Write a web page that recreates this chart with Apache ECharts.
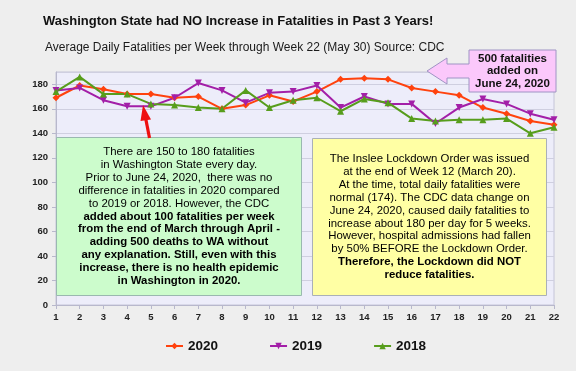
<!DOCTYPE html>
<html><head><meta charset="utf-8">
<script src="https://cdn.jsdelivr.net/npm/echarts@6/dist/echarts.min.js"></script>
<style>html,body{margin:0;padding:0;background:#eeeeee;}#c{width:576px;height:371px;}</style>
</head><body><div id="c"></div>
<script>
const weeks = ['1','2','3','4','5','6','7','8','9','10','11','12','13','14','15','16','17','18','19','20','21','22'];
const s2020 = [169,179,176,172,172,169,170,160,163,171,166,174,184,185,184,177,174,171,161,156,150,147];
const s2019 = [175,177,167,162,162,169,181,175,165,173,174,179,161,170,164,164,148,161,168,164,156,151];
const s2018 = [174,186,172,172,164,163,161,160,175,161,167,169,158,168,165,152,150,151,151,152,140,145];
const yTicks = {min:0, max:190, interval:20};

const FONT = "'Liberation Sans', Arial, sans-serif";
const chart = echarts.init(document.getElementById('c'), null, {renderer:'canvas'});
const greenText = [
 '{n|There are 150 to 180 fatalities}',
 '{n|in Washington State every day.}',
 '{n|Prior to June 24, 2020,  there was no}',
 '{n|difference in fatalities in 2020 compared}',
 '{n|to 2019 or 2018. However, the CDC}',
 '{b|added about 100 fatalities per week}',
 '{b|from the end of March through April -}',
 '{b|adding 500 deaths to WA without}',
 '{b|any explanation. Still, even with this}',
 '{b|increase, there is no health epidemic}',
 '{b|in Washington in 2020.}'
].join('\n');
const yellowText = [
 '{n|The Inslee Lockdown Order was issued}',
 '{n|at the end of Week 12 (March 20).}',
 '{n|At the time, total daily fatalities were}',
 '{n|normal (174). The CDC data change on}',
 '{n|June 24, 2020, caused daily fatalities to}',
 '{n|increase about 180 per day for 5 weeks.}',
 '{n|However, hospital admissions had fallen}',
 '{n|by 50% BEFORE the Lockdown Order.}',
 '{b|Therefore, the Lockdown did NOT}',
 '{b|reduce fatalities.}'
].join('\n');
const richStyles = {
  n:{fontFamily:FONT, fontSize:11.4, color:'#1e1e1e', lineHeight:12.85},
  b:{fontFamily:FONT, fontSize:11.4, fontWeight:'bold', color:'#1e1e1e', lineHeight:12.85}
};
function ser(name, data, color, symbol){
  return {name, type:'line', data, symbol, symbolSize:7, z:5,
    lineStyle:{color, width:2}, itemStyle:{color}, emphasis:{disabled:true}};
}
chart.setOption({
  backgroundColor:'#eeeeee',
  animation:false,
  textStyle:{fontFamily:FONT},
  grid:{left:56, right:22, top:72, bottom:66, show:true, backgroundColor:'#ededfa', borderColor:'#c4c4d8', borderWidth:1},
  xAxis:{type:'category', data:weeks, boundaryGap:false,
    axisLine:{lineStyle:{color:'#b8b8cc'}},
    axisTick:{show:true, length:4, lineStyle:{color:'#b8b8cc'}},
    axisLabel:{fontSize:9.5, fontWeight:'bold', color:'#222', margin:7, fontFamily:FONT},
    splitLine:{show:false}},
  yAxis:{type:'value', min:yTicks.min, max:yTicks.max, interval:yTicks.interval,
    axisLine:{show:true, lineStyle:{color:'#b8b8cc'}},
    axisTick:{show:true, length:4, lineStyle:{color:'#b8b8cc'}},
    axisLabel:{fontSize:9.5, fontWeight:'bold', color:'#222', margin:8, fontFamily:FONT, showMaxLabel:false,
      formatter:v=> v===190 ? '' : String(v)},
    splitLine:{show:true, lineStyle:{color:'#cfcfe0', width:1}}},
  legend:{left:160, top:334, itemWidth:17, itemHeight:8, itemGap:51,
    textStyle:{fontSize:13.5, fontWeight:'bold', color:'#111', fontFamily:FONT},
    data:['2020','2019','2018']},
  series:[
    ser('2020', s2020, '#ff420e', 'diamond'),
    ser('2019', s2019, '#a31fa8', 'path://M0,0 L10,0 L5,9 Z'),
    ser('2018', s2018, '#579d1c', 'triangle')
  ],
  graphic:[
    {type:'text', left:43, top:15, z:10, style:{text:'Washington State had NO Increase in Fatalities in Past 3 Years!',
      font:'bold 13px '+FONT, fill:'#111'}},
    {type:'text', left:45, top:42, z:10, style:{text:'Average Daily Fatalities per Week through Week 22 (May 30) Source: CDC',
      font:'12px '+FONT, fill:'#1a1a1a'}},
    // green box
    {type:'rect', z:8, shape:{x:56.5, y:137.5, width:245, height:158}, style:{fill:'#ccfccc', stroke:'#9ab8b0', lineWidth:1}},
    {type:'text', z:9, x:179, y:216.5, style:{text:greenText, rich:richStyles, align:'center', verticalAlign:'middle'}},
    // yellow box
    {type:'rect', z:8, shape:{x:312.5, y:138.5, width:234, height:157}, style:{fill:'#ffffa4', stroke:'#aab0b8', lineWidth:1}},
    {type:'text', z:9, x:429.5, y:217, style:{text:yellowText, rich:richStyles, align:'center', verticalAlign:'middle'}},
    // pink callout
    {type:'polygon', z:10, shape:{points:[[469,50],[556,50],[556,92],[469,92],[469,78],[447,78],[447,84],[427,71],[447,58],[447,64],[469,64]]},
      style:{fill:'#fbc8fb', stroke:'#9f94c4', lineWidth:1}},
    {type:'text', z:11, x:512.5, y:71, style:{text:'500 fatalities\nadded on\nJune 24, 2020', font:'bold 11.5px '+FONT,
      fill:'#111', align:'center', verticalAlign:'middle', lineHeight:12.6}},
    // red arrow
    {type:'line', z:10, shape:{x1:149.5, y1:138, x2:145.8, y2:119}, style:{stroke:'#ee1111', lineWidth:3.2}},
    {type:'polygon', z:10, shape:{points:[[143,105],[151,119.5],[140.5,121]]}, style:{fill:'#ee1111'}}
  ]
});
</script></body></html>
